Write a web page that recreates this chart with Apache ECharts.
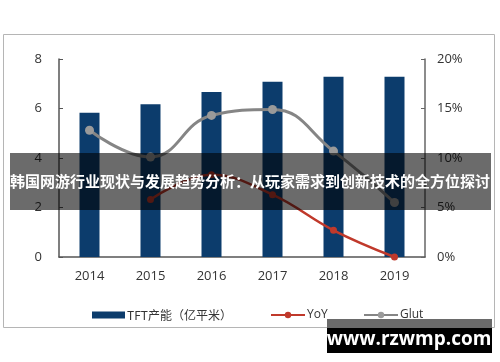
<!DOCTYPE html>
<html><head><meta charset="utf-8">
<script src="https://cdn.jsdelivr.net/npm/echarts@6/dist/echarts.min.js"></script>
<style>html,body{margin:0;padding:0;background:#fff}#c{width:500px;height:362px}</style>
</head><body><div id="c"></div>
<script>
var categories = ['2014','2015','2016','2017','2018','2019'];
var tftCapacity = [5.83, 6.17, 6.67, 7.08, 7.28, 7.28];
var yoy = ['-', 5.8, 8.3, 6.3, 2.7, 0];
var glut = [12.8, 10.1, 14.3, 14.9, 10.7, 5.5];
var leftTicks = {min: 0, max: 8, interval: 2};
var rightTicks = {min: 0, max: 20, interval: 5};
var bannerText = '韩国网游行业现状与发展趋势分析：从玩家需求到创新技术的全方位探讨';
var watermarkText = 'www.rzwmp.com';

var chart = echarts.init(document.getElementById('c'), null, {renderer: 'canvas'});
var axisFont = {color: '#333', fontSize: 13, fontFamily: 'Open Sans'};
chart.setOption({
  animation: false,
  grid: {left: 59, right: 75, top: 59, bottom: 105},
  legend: [
    {data: ['TFT产能（亿平米）'], left: 87, top: 304, itemWidth: 33, itemHeight: 7, icon: 'rect', itemGap: 2,
     textStyle: {color: '#333', fontSize: 12, fontFamily: 'Noto Sans CJK SC', padding: [0,0,0,-3]}},
    {data: ['YoY'], left: 265, top: 304, itemWidth: 34, itemHeight: 8,
     textStyle: {color: '#333', fontSize: 12, fontFamily: 'Open Sans', padding: [0,0,0,-3]}},
    {data: ['Glut'], left: 358, top: 304, itemWidth: 34, itemHeight: 8,
     textStyle: {color: '#333', fontSize: 12, fontFamily: 'Open Sans', padding: [0,0,0,-3]}}
  ],
  xAxis: {
    type: 'category', data: categories, boundaryGap: true,
    axisLine: {lineStyle: {color: '#555', width: 1.5}},
    axisTick: {inside: true, length: 4, lineStyle: {color: '#555'}},
    axisLabel: Object.assign({margin: 13}, axisFont)
  },
  yAxis: [
    {type: 'value', min: leftTicks.min, max: leftTicks.max, interval: leftTicks.interval,
     splitLine: {show: false},
     axisLine: {show: true, lineStyle: {color: '#555', width: 1.5}},
     axisTick: {show: true, inside: true, length: 4, lineStyle: {color: '#555'}},
     axisLabel: Object.assign({margin: 17}, axisFont)},
    {type: 'value', min: rightTicks.min, max: rightTicks.max, interval: rightTicks.interval,
     splitLine: {show: false},
     axisLine: {show: true, lineStyle: {color: '#666', width: 1.5}},
     axisTick: {show: true, inside: true, length: 4, lineStyle: {color: '#666'}},
     axisLabel: Object.assign({margin: 12, formatter: '{value}%'}, axisFont)}
  ],
  series: [
    {name: 'TFT产能（亿平米）', type: 'bar', data: tftCapacity, barWidth: 20,
     itemStyle: {color: '#0c3c6c'}},
    {name: 'YoY', type: 'line', yAxisIndex: 1, data: yoy, smooth: 0.4,
     symbol: 'circle', symbolSize: 7,
     lineStyle: {color: '#c0392b', width: 2.5},
     itemStyle: {color: '#c0392b'}},
    {name: 'Glut', type: 'line', yAxisIndex: 1, data: glut, smooth: 0.45,
     symbol: 'circle', symbolSize: 9,
     lineStyle: {color: '#858585', width: 3},
     itemStyle: {color: '#9a9a9a'}}
  ],
  graphic: [
    {type: 'rect', z: 0, silent: true, shape: {x: 3.5, y: 34.5, width: 491, height: 293},
     style: {fill: 'none', stroke: '#b5b5b5', lineWidth: 1}},
    {type: 'rect', z: 100, shape: {x: 10, y: 153, width: 481, height: 57},
     style: {fill: 'rgba(0,0,0,0.58)'}},
    {type: 'text', z: 101, left: 'center', top: 174,
     style: {text: bannerText, fill: '#fff', fontSize: 15, fontWeight: 'bold', fontFamily: 'Noto Sans CJK SC'}},
    {type: 'rect', z: 100, shape: {x: 327, y: 319, width: 165, height: 9},
     style: {fill: '#6a6a6a'}},
    {type: 'rect', z: 100, shape: {x: 327, y: 328, width: 165, height: 25},
     style: {fill: '#000'}},
    {type: 'text', z: 101, x: 409, y: 340,
     style: {text: watermarkText, fill: '#fff', fontSize: 19, fontWeight: 'bold', fontFamily: 'Open Sans', align: 'center', verticalAlign: 'middle'}}
  ]
});
</script></body></html>
